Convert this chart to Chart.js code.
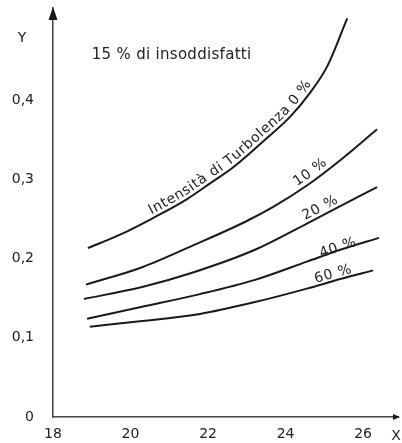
<!DOCTYPE html>
<html>
<head>
<meta charset="utf-8">
<script src="https://cdn.jsdelivr.net/npm/chart.js@4.4.1/dist/chart.umd.min.js"></script>
<style>
    html, body { margin: 0; padding: 0; background: #ffffff; }
    #wrap { position: relative; width: 402px; height: 443px; }
</style>
</head>
<body>
<div id="wrap"><canvas id="chart"></canvas></div>
<script>
// ===============================
// DATA
// ===============================

const seriesNames = ["Intensità di Turbolenza 0 %", "10 %", "20 %", "40 %", "60 %"];

const turb0X = [18.90, 19.73, 20.58, 21.46, 22.06, 22.65, 23.52, 24.12, 24.63, 25.07, 25.59];
const turb0Y = [0.213, 0.230, 0.251, 0.275, 0.295, 0.315, 0.352, 0.379, 0.409, 0.442, 0.503];

const turb10X = [18.85, 20.30, 21.59, 22.95, 23.68, 24.55, 25.41, 26.36];
const turb10Y = [0.167, 0.189, 0.216, 0.246, 0.265, 0.292, 0.324, 0.363];

const turb20X = [18.80, 20.30, 21.59, 23.21, 24.55, 25.41, 26.36];
const turb20Y = [0.149, 0.164, 0.182, 0.211, 0.244, 0.266, 0.290];

const turb40X = [18.88, 20.30, 21.79, 23.21, 24.55, 25.41, 26.41];
const turb40Y = [0.124, 0.139, 0.155, 0.173, 0.196, 0.211, 0.226];

const turb60X = [18.95, 20.30, 21.79, 23.21, 24.55, 25.41, 26.26];
const turb60Y = [0.114, 0.121, 0.130, 0.145, 0.162, 0.174, 0.185];

// where each curve label starts (x value on the curve)
const labelStartX = [20.55, 24.35, 24.55, 24.90, 24.80];

const xTicks = [18, 20, 22, 24, 26];
const yTicks = [0, 0.1, 0.2, 0.3, 0.4];
const yTickLabels = ["0", "0,1", "0,2", "0,3", "0,4"];

const chartTitle = "15 % di insoddisfatti";

// ===============================
// STYLING
// ===============================

const ink = "#1a1a1a";
const axisColor = "#444444";
const fontFamily = "'DejaVu Sans', Arial, sans-serif";
const labelOffsets = [4, 5, 4, -1, 3];
const labelSpacing = 0.7;

const seriesX = [turb0X, turb10X, turb20X, turb40X, turb60X];
const seriesY = [turb0Y, turb10Y, turb20Y, turb40Y, turb60Y];

// sample the drawn bezier line into a polyline with arc lengths
function samplePath(meta) {
    const pts = meta.data;
    const out = [];
    for (let i = 0; i < pts.length - 1; i++) {
        const a = pts[i], b = pts[i + 1];
        const c1x = a.cp2x ?? a.x, c1y = a.cp2y ?? a.y;
        const c2x = b.cp1x ?? b.x, c2y = b.cp1y ?? b.y;
        for (let k = 0; k < 24; k++) {
            const t = k / 24, u = 1 - t;
            out.push({
                x: u * u * u * a.x + 3 * u * u * t * c1x + 3 * u * t * t * c2x + t * t * t * b.x,
                y: u * u * u * a.y + 3 * u * u * t * c1y + 3 * u * t * t * c2y + t * t * t * b.y
            });
        }
    }
    const last = pts[pts.length - 1];
    out.push({ x: last.x, y: last.y });
    let s = 0;
    out[0].s = 0;
    for (let i = 1; i < out.length; i++) {
        s += Math.hypot(out[i].x - out[i - 1].x, out[i].y - out[i - 1].y);
        out[i].s = s;
    }
    return out;
}

function pointAt(path, s) {
    for (let i = 1; i < path.length; i++) {
        if (path[i].s >= s) {
            const a = path[i - 1], b = path[i];
            const f = (s - a.s) / ((b.s - a.s) || 1);
            const dx = b.x - a.x, dy = b.y - a.y;
            const len = Math.hypot(dx, dy) || 1;
            return {
                x: a.x + dx * f,
                y: a.y + dy * f,
                ang: Math.atan2(dy, dx),
                nx: dy / len,
                ny: -dx / len
            };
        }
    }
    return null;
}

const decorPlugin = {
    id: "decor",
    afterDatasetsDraw(chart) {
        const ctx = chart.ctx;
        const xs = chart.scales.x, ys = chart.scales.y;
        const area = chart.chartArea;
        ctx.save();

        // axis arrows
        ctx.fillStyle = ink;
        ctx.beginPath();
        ctx.moveTo(area.left, area.top - 1);
        ctx.lineTo(area.left - 4.5, area.top + 12);
        ctx.lineTo(area.left + 4.5, area.top + 12);
        ctx.closePath();
        ctx.fill();
        ctx.beginPath();
        ctx.moveTo(area.right + 2, area.bottom);
        ctx.lineTo(area.right - 5, area.bottom - 3);
        ctx.lineTo(area.right - 5, area.bottom + 3);
        ctx.closePath();
        ctx.fill();

        // axis letters and title
        ctx.fillStyle = "#222";
        ctx.font = "14px " + fontFamily;
        ctx.textAlign = "center";
        ctx.textBaseline = "middle";
        ctx.fillText("Y", area.left - 31, area.top + 30);
        ctx.fillText("X", area.right - 2, area.bottom + 19);
        ctx.textAlign = "left";
        ctx.textBaseline = "alphabetic";
        ctx.font = "15px " + fontFamily;
        ctx.letterSpacing = "0.3px";
        ctx.fillText(chartTitle, xs.getPixelForValue(19), ys.getPixelForValue(0.452));
        ctx.letterSpacing = "0px";

        // labels written along each curve
        ctx.font = "14px " + fontFamily;
        ctx.textAlign = "center";
        seriesNames.forEach((name, i) => {
            const path = samplePath(chart.getDatasetMeta(i));
            const startPx = xs.getPixelForValue(labelStartX[i]);
            let s = 0;
            for (const p of path) {
                if (p.x >= startPx) { s = p.s; break; }
            }
            for (const ch of name) {
                const w = ctx.measureText(ch).width;
                const p = pointAt(path, s + w / 2);
                if (!p) break;
                ctx.save();
                ctx.translate(p.x + p.nx * labelOffsets[i], p.y + p.ny * labelOffsets[i]);
                ctx.rotate(p.ang);
                ctx.fillText(ch, 0, 0);
                ctx.restore();
                s += w + labelSpacing;
            }
        });
        ctx.restore();
    }
};

new Chart(document.getElementById("chart"), {
    type: "scatter",
    data: {
        datasets: seriesNames.map((name, i) => ({
            label: name,
            data: seriesX[i].map((x, j) => ({ x: x, y: seriesY[i][j] })),
            showLine: true,
            borderColor: ink,
            borderWidth: 2,
            pointRadius: 0,
            cubicInterpolationMode: "monotone",
            fill: false
        }))
    },
    options: {
        responsive: true,
        maintainAspectRatio: false,
        animation: false,
        layout: { padding: { top: 8, right: 4, left: 0, bottom: 0 } },
        plugins: {
            legend: { display: false },
            tooltip: { enabled: false }
        },
        scales: {
            x: {
                type: "linear",
                min: 18,
                max: 26.9,
                afterBuildTicks: (scale) => { scale.ticks = xTicks.map(v => ({ value: v })); },
                afterFit: (scale) => {
                    scale.height = 26;
                    scale.paddingLeft = 0;
                    scale.paddingRight = 0;
                },
                ticks: {
                    color: "#222",
                    font: { family: fontFamily, size: 14 },
                    padding: 9,
                    maxRotation: 0,
                    autoSkip: false
                },
                grid: { display: false, drawTicks: false },
                border: { display: true, color: axisColor, width: 1.5 }
            },
            y: {
                type: "linear",
                min: 0,
                max: 0.516,
                afterBuildTicks: (scale) => { scale.ticks = yTicks.map(v => ({ value: v })); },
                afterFit: (scale) => {
                    scale.width = 53;
                    scale.paddingTop = 0;
                    scale.paddingBottom = 0;
                },
                ticks: {
                    color: "#222",
                    font: { family: fontFamily, size: 14 },
                    padding: 19,
                    autoSkip: false,
                    callback: (value) => {
                        const i = yTicks.findIndex(t => Math.abs(t - value) < 1e-9);
                        return i >= 0 ? yTickLabels[i] : "";
                    }
                },
                grid: { display: false, drawTicks: false },
                border: { display: true, color: axisColor, width: 1.5 }
            }
        }
    },
    plugins: [decorPlugin]
});
</script>
</body>
</html>
